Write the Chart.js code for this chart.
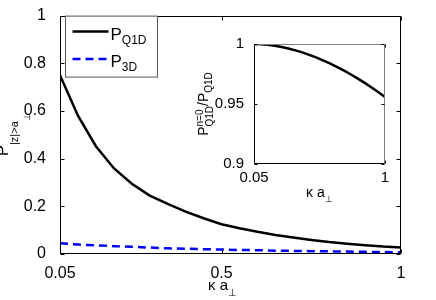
<!DOCTYPE html>
<html>
<head>
<meta charset="utf-8">
<script src="https://cdn.jsdelivr.net/npm/chart.js@4.4.1/dist/chart.umd.min.js"></script>
<style>
  body { margin: 0; background: #fff; }
  #wrap { position: relative; width: 436px; height: 300px; }
  #main { position: absolute; left: 0; top: 0; }
  #inset { position: absolute; left: 190px; top: 30px; pointer-events: none; }
</style>
</head>
<body>
<div id="wrap">
  <canvas id="main" width="436" height="300"></canvas>
  <canvas id="inset" width="210" height="175"></canvas>
</div>
<script>
// Datos
const kappa = [0.05, 0.10, 0.15, 0.20, 0.25, 0.30, 0.35, 0.40, 0.45, 0.50,
               0.55, 0.60, 0.65, 0.70, 0.75, 0.80, 0.85, 0.90, 0.95, 1.00];
const pQ1D = [0.750, 0.580, 0.452, 0.360, 0.295, 0.245, 0.210, 0.178, 0.150, 0.125,
              0.108, 0.093, 0.080, 0.069, 0.059, 0.050, 0.043, 0.037, 0.031, 0.027];
const p3D = [0.045, 0.040, 0.036, 0.033, 0.030, 0.027, 0.024, 0.022, 0.020, 0.019,
             0.017, 0.016, 0.014, 0.013, 0.012, 0.011, 0.010, 0.009, 0.008, 0.007];
const ratioN0 = [1.0000, 0.9998, 0.9993, 0.9985, 0.9975, 0.9962, 0.9947, 0.9930, 0.9910, 0.9888,
                 0.9864, 0.9838, 0.9810, 0.9780, 0.9748, 0.9714, 0.9678, 0.9640, 0.9600, 0.9558];
const mainXTicks = [0.05, 0.5, 1];
const mainYTicks = [0, 0.2, 0.4, 0.6, 0.8, 1];
const insetXTicks = [0.05, 1];
const insetYTicks = [0.9, 0.95, 1];

const FONT = '"Liberation Sans", Arial, sans-serif';
Chart.defaults.font.family = FONT;
Chart.defaults.color = '#000';

const toPoints = (ys) => kappa.map((k, i) => ({ x: k, y: ys[i] }));

// Dibuja texto con subíndices / superíndices
function richWidth(ctx, parts) {
    let w = 0;
    parts.forEach(p => {
        if (p.stack) {
            w += Math.max(...p.stack.map(s => { ctx.font = s.s + 'px ' + FONT; return ctx.measureText(s.t).width; }));
        } else {
            ctx.font = p.s + 'px ' + FONT;
            w += ctx.measureText(p.t).width;
        }
    });
    return w;
}
function drawRich(ctx, x, y, parts) {
    ctx.textBaseline = 'alphabetic';
    ctx.textAlign = 'left';
    ctx.fillStyle = '#000';
    parts.forEach(p => {
        const segs = p.stack ? p.stack : [p];
        let adv = 0;
        segs.forEach(s => {
            ctx.font = s.s + 'px ' + FONT;
            ctx.fillText(s.t, x, y + (s.dy || 0));
            adv = Math.max(adv, ctx.measureText(s.t).width);
        });
        x += adv;
    });
}
function drawRotated(ctx, cx, cy, parts) {
    ctx.save();
    ctx.translate(cx, cy);
    ctx.rotate(-Math.PI / 2);
    drawRich(ctx, -richWidth(ctx, parts) / 2, 0, parts);
    ctx.restore();
}

// Marco y marcas hacia dentro (estilo MATLAB)
function drawFrame(chart, xTicks, yTicks, sideColor, tick) {
    const { ctx, chartArea: a, scales: { x, y } } = chart;
    const L = Math.round(a.left) + 0.5, R = Math.round(a.right) - 0.5;
    const T = Math.round(a.top) + 0.5, B = Math.round(a.bottom) - 0.5;
    ctx.save();
    ctx.lineWidth = 1;
    ctx.strokeStyle = sideColor;
    ctx.beginPath();
    ctx.moveTo(L, T); ctx.lineTo(R, T); ctx.lineTo(R, B);
    ctx.stroke();
    ctx.strokeStyle = '#000';
    ctx.beginPath();
    ctx.moveTo(L, T); ctx.lineTo(L, B); ctx.lineTo(R, B);
    ctx.stroke();
    ctx.beginPath();
    xTicks.forEach(v => {
        const px = Math.round(x.getPixelForValue(v)) + 0.5;
        ctx.moveTo(px, B); ctx.lineTo(px, B - tick);
        ctx.moveTo(px, T); ctx.lineTo(px, T + tick);
    });
    yTicks.forEach(v => {
        const py = Math.round(y.getPixelForValue(v)) + 0.5;
        ctx.moveTo(L, py); ctx.lineTo(L + tick, py);
        ctx.moveTo(R, py); ctx.lineTo(R - tick, py);
    });
    ctx.stroke();
    ctx.restore();
}

const mainDecor = {
    id: 'mainDecor',
    afterDraw(chart) {
        const { ctx, chartArea: a } = chart;
        drawFrame(chart, mainXTicks, mainYTicks, '#000', 4);

        // Leyenda
        const lx = a.left + 5.5, ly = a.top + 0.5;
        ctx.save();
        ctx.fillStyle = '#fff';
        ctx.fillRect(lx, ly, 92, 61);
        ctx.strokeStyle = '#555';
        ctx.lineWidth = 1;
        ctx.strokeRect(lx, ly, 92, 61);
        const entries = chart.data.datasets;
        entries.forEach((ds, i) => {
            const yy = ly + 15.5 + i * 27.5;
            ctx.strokeStyle = ds.borderColor;
            ctx.lineWidth = ds.borderWidth;
            ctx.setLineDash(ds.borderDash || []);
            ctx.beginPath();
            ctx.moveTo(lx + 7, yy); ctx.lineTo(lx + 43, yy);
            ctx.stroke();
            ctx.setLineDash([]);
            drawRich(ctx, lx + 45, yy + 8, [{ t: 'P', s: 17 }, { t: ds.label, s: 12, dy: 4 }]);
        });
        ctx.restore();

        // Títulos de ejes
        drawRich(ctx, a.left + 148, a.bottom + 36, [{ t: 'κ a', s: 15 }, { t: '⊥', s: 10, dy: 6 }]);
        drawRotated(ctx, 8, (a.top + a.bottom) / 2,
            [{ t: 'P', s: 17 }, { t: '|z|>a', s: 11, dy: 10 }, { t: '⊥', s: 9, dy: 22 }]);
    }
};

const insetDecor = {
    id: 'insetDecor',
    afterDraw(chart) {
        const { ctx, chartArea: a } = chart;
        drawFrame(chart, insetXTicks, insetYTicks, '#808080', 3);
        drawRich(ctx, a.left + 52, a.bottom + 33, [{ t: 'κ a', s: 14 }, { t: '⊥', s: 9, dy: 5 }]);
        drawRotated(ctx, 18, (a.top + a.bottom) / 2, [
            { t: 'P', s: 14 },
            { stack: [{ t: 'n=0', s: 10, dy: -5 }, { t: 'Q1D', s: 10, dy: 5 }] },
            { t: '/P', s: 14 },
            { t: 'Q1D', s: 10, dy: 4 }
        ]);
    }
};

new Chart(document.getElementById('main'), {
    type: 'line',
    data: {
        datasets: [
            { label: 'Q1D', data: toPoints(pQ1D), borderColor: '#000000', borderWidth: 2.5, pointRadius: 0, tension: 0 },
            { label: '3D', data: toPoints(p3D), borderColor: '#0000ff', borderWidth: 2.5, borderDash: [8, 5], pointRadius: 0, tension: 0 }
        ]
    },
    options: {
        responsive: false,
        animation: false,
        layout: { padding: { top: 9, right: 35, left: 0, bottom: 0 } },
        plugins: { legend: { display: false }, tooltip: { enabled: false } },
        scales: {
            x: {
                type: 'linear', min: 0.05, max: 1,
                afterBuildTicks: s => { s.ticks = mainXTicks.map(v => ({ value: v })); },
                afterFit: s => { s.height = 46; },
                grid: { display: false }, border: { display: false },
                ticks: { font: { size: 16 }, padding: 2, maxRotation: 0, autoSkip: false, callback: v => String(v) }
            },
            y: {
                min: 0, max: 1,
                afterBuildTicks: s => { s.ticks = mainYTicks.map(v => ({ value: v })); },
                afterFit: s => { s.width = 60; },
                grid: { display: false }, border: { display: false },
                ticks: { font: { size: 16 }, padding: 6, autoSkip: false, callback: v => String(v) }
            }
        }
    },
    plugins: [mainDecor]
});

new Chart(document.getElementById('inset'), {
    type: 'line',
    data: {
        datasets: [
            { label: 'ratio', data: toPoints(ratioN0), borderColor: '#000000', borderWidth: 2.5, pointRadius: 0, tension: 0 }
        ]
    },
    options: {
        responsive: false,
        animation: false,
        layout: { padding: { top: 14, right: 15, left: 0, bottom: 0 } },
        plugins: { legend: { display: false }, tooltip: { enabled: false } },
        scales: {
            x: {
                type: 'linear', min: 0.05, max: 1,
                afterBuildTicks: s => { s.ticks = insetXTicks.map(v => ({ value: v })); },
                afterFit: s => { s.height = 41; },
                grid: { display: false }, border: { display: false },
                ticks: { font: { size: 15 }, padding: -3, maxRotation: 0, autoSkip: false, callback: v => String(v) }
            },
            y: {
                min: 0.9, max: 1,
                afterBuildTicks: s => { s.ticks = insetYTicks.map(v => ({ value: v })); },
                afterFit: s => { s.width = 64; },
                grid: { display: false }, border: { display: false },
                ticks: { font: { size: 15 }, padding: 2, autoSkip: false, callback: v => String(v) }
            }
        }
    },
    plugins: [insetDecor]
});
</script>
</body>
</html>
